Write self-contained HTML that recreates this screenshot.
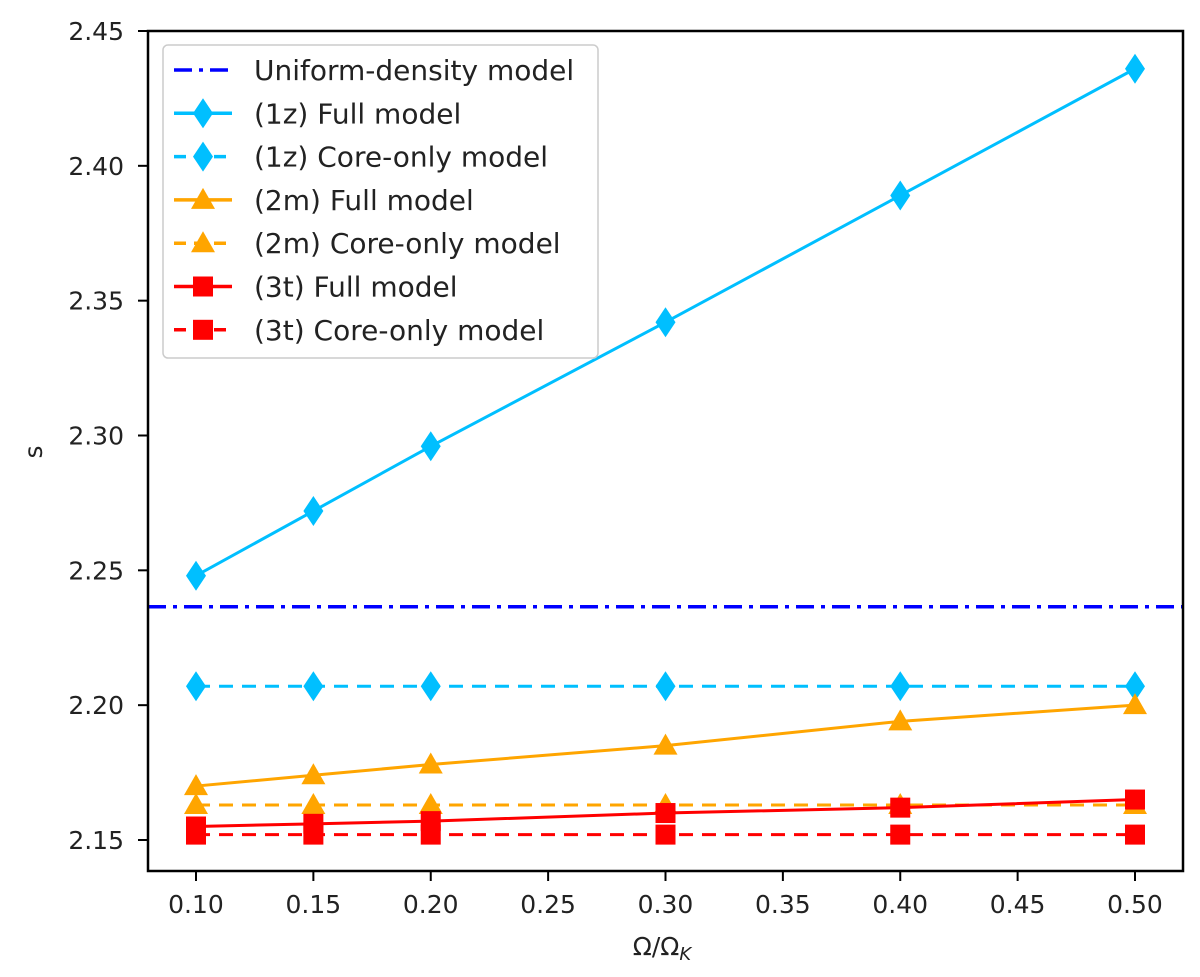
<!DOCTYPE html>
<html><head><meta charset="utf-8"><style>
body{margin:0;background:#fff}
svg{font-family:"DejaVu Sans","Liberation Sans",sans-serif}
</style></head><body>
<svg id="c" width="1200" height="972"></svg>
<script>
const xs=[0.10,0.15,0.20,0.30,0.40,0.50];
const uniform=2.2365;
const full1z=[2.248,2.272,2.296,2.342,2.389,2.436];
const core1z=[2.207,2.207,2.207,2.207,2.207,2.207];
const full2m=[2.170,2.174,2.178,2.185,2.194,2.200];
const core2m=[2.163,2.163,2.163,2.163,2.163,2.163];
const full3t=[2.155,2.156,2.157,2.160,2.162,2.165];
const core3t=[2.152,2.152,2.152,2.152,2.152,2.152];
const xTicks=[0.10,0.15,0.20,0.25,0.30,0.35,0.40,0.45,0.50];
const yTicks=[2.15,2.20,2.25,2.30,2.35,2.40,2.45];
const L=148,R=1183,T=31,B=871;
const X=v=>196+(v-0.10)*2347.5;
const Y=v=>840-(v-2.15)*2696.7;
const svg=document.getElementById('c');
const NS='http://www.w3.org/2000/svg';
function mk(t,a,p){const e=document.createElementNS(NS,t);for(const k in a)e.setAttribute(k,a[k]);(p||svg).appendChild(e);return e;}
xTicks.forEach(v=>{const x=X(v);
 const t=mk('line',{x1:x,x2:x,y1:B,y2:B+10,stroke:'#000','stroke-width':2});
 
 
 const l=mk('text',{x:x,y:913,'font-size':25,'text-anchor':'middle',fill:'#222'});l.textContent=v.toFixed(2);
 
 });
yTicks.forEach(v=>{const y=Y(v);
 const t=mk('line',{x1:L-10,x2:L,y1:y,y2:y,stroke:'#000','stroke-width':2});
 
 
 const l=mk('text',{x:124,y:y+9,'font-size':25,'text-anchor':'end',fill:'#222'});l.textContent=v.toFixed(2);
 
 });
const u=mk('line',{x1:L,x2:R,y1:Y(uniform),y2:Y(uniform),stroke:'#0000ff','stroke-width':3.5,'stroke-dasharray':'18 7 4 7'});


function marker(kind,x,y,c,g){
 if(kind==='d') return mk('polygon',{points:`${x},${y-15} ${x+10},${y} ${x},${y+15} ${x-10},${y}`,fill:c},g);
 if(kind==='t') return mk('polygon',{points:`${x},${y-12} ${x+12},${y+9} ${x-12},${y+9}`,fill:c},g);
 return mk('rect',{x:x-10,y:y-10,width:20,height:20,fill:c},g);
}
function series(name,vals,c,dash,kind){
 const g=mk('g',{});
 
 
 mk('polyline',{points:xs.map((v,i)=>X(v)+','+Y(vals[i])).join(' '),fill:'none',stroke:c,'stroke-width':3,'stroke-dasharray':dash?'14 9':'none'},g);
 xs.forEach((v,i)=>{const m=marker(kind,X(v),Y(vals[i]),c,g);
  
  });
}
series('series-1z-core',core1z,'#00bfff',true,'d');
series('series-1z-full',full1z,'#00bfff',false,'d');
series('series-2m-core',core2m,'#ffa500',true,'t');
series('series-2m-full',full2m,'#ffa500',false,'t');
series('series-3t-core',core3t,'#ff0000',true,'s');
series('series-3t-full',full3t,'#ff0000',false,'s');
const fr=mk('rect',{x:L,y:T,width:R-L,height:B-T,fill:'none',stroke:'#000','stroke-width':2.5});


const xt=mk('text',{x:662,y:955,'font-size':25,'text-anchor':'middle',fill:'#222'});
xt.innerHTML='Ω/Ω<tspan font-size="18" dy="5" font-style="italic">K</tspan>';


const yt=mk('text',{x:42,y:452,'font-size':25,'text-anchor':'middle',fill:'#222',transform:'rotate(-90 42 452)'});yt.textContent='s';


const lg=mk('g',{});


mk('rect',{x:163,y:45,width:435,height:313,rx:5,fill:'#fff',stroke:'#ccc','stroke-width':1.5},lg);
const items=[['Uniform-density model','#0000ff','dd',null],['(1z) Full model','#00bfff','',"d"],['(1z) Core-only model','#00bfff','12 8','d'],['(2m) Full model','#ffa500','','t'],['(2m) Core-only model','#ffa500','12 8','t'],['(3t) Full model','#ff0000','','s'],['(3t) Core-only model','#ff0000','12 8','s']];
items.forEach((it,i)=>{const y=70+i*43.3;
 const g=mk('g',{},lg);
 
 
 mk('line',{x1:174,x2:232,y1:y,y2:y,stroke:it[1],'stroke-width':3.5,'stroke-dasharray':it[2]==='dd'?'18 7 4 7':(it[2]||'none')},g);
 if(it[3])marker(it[3],203,y,it[1],g);
 const t=mk('text',{x:254,y:y+10,'font-size':28,fill:'#222',textLength:0},g);t.removeAttribute('textLength');t.textContent=it[0];});
</script>
</body></html>
